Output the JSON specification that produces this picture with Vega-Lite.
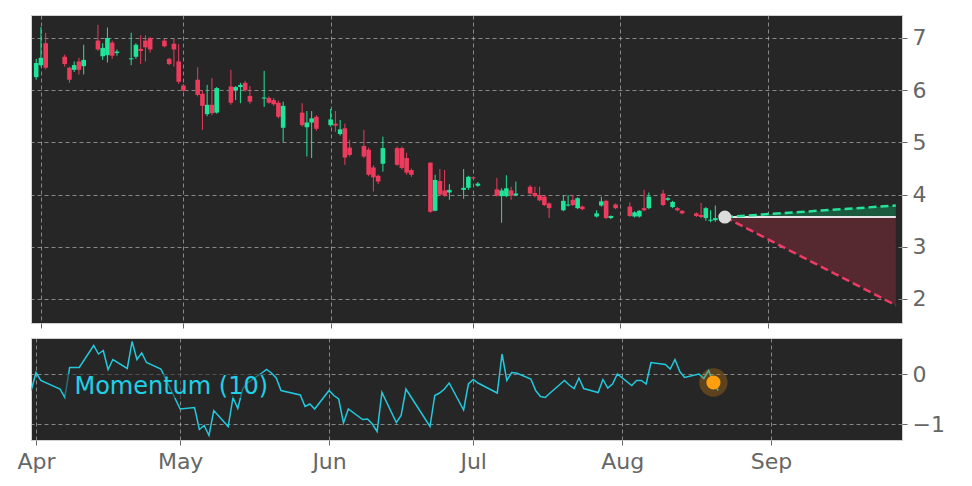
{
  "$schema": "https://vega.github.io/schema/vega-lite/v6.json",
  "background": "white",
  "padding": {"left": 16, "top": 14, "right": 5, "bottom": 5},
  "spacing": 8,
  "config": {
    "view": {"fill": "#262626", "stroke": "#d0d0d0", "strokeWidth": 1},
    "axis": {
      "gridColor": "#b0b0b0", "gridDash": [4, 3], "gridOpacity": 0.7, "gridWidth": 1,
      "domain": false, "tickColor": "#666666", "tickSize": 5,
      "labelFont": "DejaVu Sans", "labelFontSize": 22, "labelColor": "#666666", "labelPadding": 5
    }
  },
  "datasets": {
    "ohlc": [
      {"date": "2015-03-31", "open": 6.25, "high": 6.6, "low": 6.2, "close": 6.52},
      {"date": "2015-04-01", "open": 6.48, "high": 7.21, "low": 6.45, "close": 6.62},
      {"date": "2015-04-02", "open": 6.9, "high": 7.1, "low": 6.4, "close": 6.43},
      {"date": "2015-04-06", "open": 6.64, "high": 6.68, "low": 6.45, "close": 6.5},
      {"date": "2015-04-07", "open": 6.43, "high": 6.45, "low": 6.14, "close": 6.2},
      {"date": "2015-04-08", "open": 6.39, "high": 6.55, "low": 6.35, "close": 6.48},
      {"date": "2015-04-09", "open": 6.55, "high": 6.62, "low": 6.3, "close": 6.39},
      {"date": "2015-04-10", "open": 6.46, "high": 6.87, "low": 6.3, "close": 6.58},
      {"date": "2015-04-13", "open": 6.95, "high": 7.25, "low": 6.75, "close": 6.78},
      {"date": "2015-04-14", "open": 6.65, "high": 6.9, "low": 6.58, "close": 6.81},
      {"date": "2015-04-15", "open": 6.67, "high": 7.2, "low": 6.53, "close": 7.0},
      {"date": "2015-04-16", "open": 6.91, "high": 6.95, "low": 6.6, "close": 6.66},
      {"date": "2015-04-17", "open": 6.71, "high": 6.78, "low": 6.66, "close": 6.74},
      {"date": "2015-04-20", "open": 6.59, "high": 7.1, "low": 6.48, "close": 6.61},
      {"date": "2015-04-21", "open": 6.64, "high": 6.9, "low": 6.6, "close": 6.87},
      {"date": "2015-04-22", "open": 6.79, "high": 7.05, "low": 6.5, "close": 6.75},
      {"date": "2015-04-23", "open": 6.95, "high": 7.05, "low": 6.55, "close": 6.82},
      {"date": "2015-04-24", "open": 7.0, "high": 7.02, "low": 6.72, "close": 6.78},
      {"date": "2015-04-27", "open": 6.95, "high": 6.98, "low": 6.82, "close": 6.84},
      {"date": "2015-04-28", "open": 6.6, "high": 6.62, "low": 6.48, "close": 6.5},
      {"date": "2015-04-29", "open": 6.89, "high": 6.98, "low": 6.45, "close": 6.78},
      {"date": "2015-04-30", "open": 6.55, "high": 6.88, "low": 6.12, "close": 6.16},
      {"date": "2015-05-01", "open": 6.09, "high": 6.12, "low": 5.97, "close": 5.99},
      {"date": "2015-05-04", "open": 6.2, "high": 6.44, "low": 5.88, "close": 5.91},
      {"date": "2015-05-05", "open": 5.93, "high": 6.0, "low": 5.24, "close": 5.7},
      {"date": "2015-05-06", "open": 5.54, "high": 6.1, "low": 5.5, "close": 5.72},
      {"date": "2015-05-07", "open": 5.72, "high": 6.23, "low": 5.52, "close": 5.56},
      {"date": "2015-05-08", "open": 5.57, "high": 6.06, "low": 5.55, "close": 6.04},
      {"date": "2015-05-11", "open": 6.07, "high": 6.39, "low": 5.72, "close": 5.76},
      {"date": "2015-05-12", "open": 6.0, "high": 6.08, "low": 5.81, "close": 6.06},
      {"date": "2015-05-13", "open": 6.06, "high": 6.14, "low": 5.75, "close": 6.1},
      {"date": "2015-05-14", "open": 6.14, "high": 6.18, "low": 5.97, "close": 6.0},
      {"date": "2015-05-15", "open": 5.89, "high": 6.08, "low": 5.74, "close": 5.78},
      {"date": "2015-05-18", "open": 5.84, "high": 6.37, "low": 5.68, "close": 5.86},
      {"date": "2015-05-19", "open": 5.85, "high": 5.88, "low": 5.74, "close": 5.76},
      {"date": "2015-05-20", "open": 5.81, "high": 5.85, "low": 5.7, "close": 5.73},
      {"date": "2015-05-21", "open": 5.76, "high": 5.8, "low": 5.46, "close": 5.49},
      {"date": "2015-05-22", "open": 5.28, "high": 5.78, "low": 5.01, "close": 5.7},
      {"date": "2015-05-26", "open": 5.57, "high": 5.75, "low": 5.3, "close": 5.33},
      {"date": "2015-05-27", "open": 5.29, "high": 5.6, "low": 4.73, "close": 5.38},
      {"date": "2015-05-28", "open": 5.38, "high": 5.6, "low": 4.7, "close": 5.46},
      {"date": "2015-05-29", "open": 5.49, "high": 5.52, "low": 5.22, "close": 5.26},
      {"date": "2015-06-01", "open": 5.33, "high": 5.64, "low": 5.3, "close": 5.44},
      {"date": "2015-06-02", "open": 5.36, "high": 5.6, "low": 5.2, "close": 5.32},
      {"date": "2015-06-03", "open": 5.16, "high": 5.43, "low": 5.13, "close": 5.25},
      {"date": "2015-06-04", "open": 5.27, "high": 5.36, "low": 4.57, "close": 4.71},
      {"date": "2015-06-05", "open": 4.9, "high": 5.05, "low": 4.73, "close": 4.76},
      {"date": "2015-06-08", "open": 4.93, "high": 5.24, "low": 4.7, "close": 4.73},
      {"date": "2015-06-09", "open": 4.86, "high": 4.9, "low": 4.35, "close": 4.38},
      {"date": "2015-06-10", "open": 4.52, "high": 4.56, "low": 4.06, "close": 4.33},
      {"date": "2015-06-11", "open": 4.36, "high": 4.38, "low": 4.2, "close": 4.25},
      {"date": "2015-06-12", "open": 4.59, "high": 5.11, "low": 4.44, "close": 4.89},
      {"date": "2015-06-15", "open": 4.89, "high": 4.92, "low": 4.55, "close": 4.57},
      {"date": "2015-06-16", "open": 4.89, "high": 4.92, "low": 4.48, "close": 4.51},
      {"date": "2015-06-17", "open": 4.7, "high": 4.8, "low": 4.38, "close": 4.42},
      {"date": "2015-06-18", "open": 4.47, "high": 4.5, "low": 4.34, "close": 4.38},
      {"date": "2015-06-22", "open": 4.61, "high": 4.62, "low": 3.65, "close": 3.67},
      {"date": "2015-06-23", "open": 3.69, "high": 4.38, "low": 3.68, "close": 4.28},
      {"date": "2015-06-24", "open": 4.26, "high": 4.49, "low": 3.97, "close": 4.0},
      {"date": "2015-06-25", "open": 4.08, "high": 4.47, "low": 3.96, "close": 3.98},
      {"date": "2015-06-26", "open": 4.04, "high": 4.2, "low": 3.9, "close": 4.09},
      {"date": "2015-06-29", "open": 4.09, "high": 4.49, "low": 3.92, "close": 4.13},
      {"date": "2015-06-30", "open": 4.13, "high": 4.36, "low": 4.09, "close": 4.34},
      {"date": "2015-07-01", "open": 4.33, "high": 4.34, "low": 4.3, "close": 4.31},
      {"date": "2015-07-02", "open": 4.17, "high": 4.24, "low": 4.15, "close": 4.21},
      {"date": "2015-07-06", "open": 4.1, "high": 4.32, "low": 3.96, "close": 3.98},
      {"date": "2015-07-07", "open": 3.97, "high": 4.12, "low": 3.46, "close": 4.08},
      {"date": "2015-07-08", "open": 3.97, "high": 4.37, "low": 3.95, "close": 4.12},
      {"date": "2015-07-09", "open": 4.08, "high": 4.15, "low": 3.9, "close": 3.98},
      {"date": "2015-07-10", "open": 3.99, "high": 4.25, "low": 3.97, "close": 4.02},
      {"date": "2015-07-13", "open": 4.15, "high": 4.18, "low": 4.0, "close": 4.02},
      {"date": "2015-07-14", "open": 4.03, "high": 4.15, "low": 3.95, "close": 3.97},
      {"date": "2015-07-15", "open": 3.99, "high": 4.15, "low": 3.87, "close": 3.89},
      {"date": "2015-07-16", "open": 3.96, "high": 3.98, "low": 3.78, "close": 3.8},
      {"date": "2015-07-17", "open": 3.83, "high": 3.85, "low": 3.55, "close": 3.74},
      {"date": "2015-07-20", "open": 3.7, "high": 3.99, "low": 3.68, "close": 3.88},
      {"date": "2015-07-21", "open": 3.79, "high": 3.99, "low": 3.77, "close": 3.81},
      {"date": "2015-07-22", "open": 3.9, "high": 3.99, "low": 3.78, "close": 3.8},
      {"date": "2015-07-23", "open": 3.74, "high": 3.95, "low": 3.72, "close": 3.93},
      {"date": "2015-07-24", "open": 3.77, "high": 3.79, "low": 3.7, "close": 3.72},
      {"date": "2015-07-27", "open": 3.58, "high": 3.7, "low": 3.56, "close": 3.64},
      {"date": "2015-07-28", "open": 3.79, "high": 3.96, "low": 3.77, "close": 3.87},
      {"date": "2015-07-29", "open": 3.88, "high": 3.9, "low": 3.53, "close": 3.55},
      {"date": "2015-07-30", "open": 3.55, "high": 3.6, "low": 3.53, "close": 3.59},
      {"date": "2015-07-31", "open": 3.81, "high": 3.83, "low": 3.72, "close": 3.74},
      {"date": "2015-08-03", "open": 3.77, "high": 3.85, "low": 3.57, "close": 3.59},
      {"date": "2015-08-04", "open": 3.58, "high": 3.68, "low": 3.56, "close": 3.66},
      {"date": "2015-08-05", "open": 3.58, "high": 3.7, "low": 3.56, "close": 3.69},
      {"date": "2015-08-06", "open": 3.74, "high": 4.09, "low": 3.68, "close": 3.7},
      {"date": "2015-08-07", "open": 3.74, "high": 4.04, "low": 3.72, "close": 3.96},
      {"date": "2015-08-10", "open": 4.02, "high": 4.09, "low": 3.78, "close": 3.8},
      {"date": "2015-08-11", "open": 3.9, "high": 3.95, "low": 3.88, "close": 3.93},
      {"date": "2015-08-12", "open": 3.76, "high": 3.88, "low": 3.74, "close": 3.86},
      {"date": "2015-08-13", "open": 3.74, "high": 3.76, "low": 3.68, "close": 3.7},
      {"date": "2015-08-14", "open": 3.69, "high": 3.7, "low": 3.62, "close": 3.64},
      {"date": "2015-08-17", "open": 3.64, "high": 3.66, "low": 3.57, "close": 3.59},
      {"date": "2015-08-18", "open": 3.61, "high": 3.84, "low": 3.55, "close": 3.57},
      {"date": "2015-08-19", "open": 3.55, "high": 3.76, "low": 3.5, "close": 3.74},
      {"date": "2015-08-20", "open": 3.5, "high": 3.7, "low": 3.47, "close": 3.52},
      {"date": "2015-08-21", "open": 3.51, "high": 3.79, "low": 3.48, "close": 3.55}
    ],
    "mom": [
      {"date": "2015-03-31", "mom": -0.33}, {"date": "2015-04-01", "mom": 0.03},
      {"date": "2015-04-02", "mom": -0.13}, {"date": "2015-04-06", "mom": -0.3},
      {"date": "2015-04-07", "mom": -0.47}, {"date": "2015-04-08", "mom": 0.13},
      {"date": "2015-04-09", "mom": 0.13}, {"date": "2015-04-10", "mom": 0.13},
      {"date": "2015-04-13", "mom": 0.57}, {"date": "2015-04-14", "mom": 0.4},
      {"date": "2015-04-15", "mom": 0.47}, {"date": "2015-04-16", "mom": 0.09},
      {"date": "2015-04-17", "mom": 0.29}, {"date": "2015-04-20", "mom": 0.11},
      {"date": "2015-04-21", "mom": 0.65}, {"date": "2015-04-22", "mom": 0.29},
      {"date": "2015-04-23", "mom": 0.42}, {"date": "2015-04-24", "mom": 0.23},
      {"date": "2015-04-27", "mom": 0.1}, {"date": "2015-04-28", "mom": -0.1},
      {"date": "2015-04-29", "mom": -0.3}, {"date": "2015-04-30", "mom": -0.5},
      {"date": "2015-05-01", "mom": -0.7}, {"date": "2015-05-04", "mom": -0.67},
      {"date": "2015-05-05", "mom": -1.11}, {"date": "2015-05-06", "mom": -1.03},
      {"date": "2015-05-07", "mom": -1.23}, {"date": "2015-05-08", "mom": -0.73},
      {"date": "2015-05-11", "mom": -1.05}, {"date": "2015-05-12", "mom": -0.47},
      {"date": "2015-05-13", "mom": -0.69}, {"date": "2015-05-14", "mom": -0.3},
      {"date": "2015-05-15", "mom": -0.18}, {"date": "2015-05-18", "mom": 0.02},
      {"date": "2015-05-19", "mom": 0.09}, {"date": "2015-05-20", "mom": 0.02},
      {"date": "2015-05-21", "mom": -0.08}, {"date": "2015-05-22", "mom": -0.33},
      {"date": "2015-05-26", "mom": -0.42}, {"date": "2015-05-27", "mom": -0.65},
      {"date": "2015-05-28", "mom": -0.6}, {"date": "2015-05-29", "mom": -0.7},
      {"date": "2015-06-01", "mom": -0.33}, {"date": "2015-06-02", "mom": -0.43},
      {"date": "2015-06-03", "mom": -0.5}, {"date": "2015-06-04", "mom": -0.98},
      {"date": "2015-06-05", "mom": -0.7}, {"date": "2015-06-08", "mom": -0.91},
      {"date": "2015-06-09", "mom": -0.9}, {"date": "2015-06-10", "mom": -1.0},
      {"date": "2015-06-11", "mom": -1.15}, {"date": "2015-06-12", "mom": -0.37},
      {"date": "2015-06-15", "mom": -0.97}, {"date": "2015-06-16", "mom": -0.83},
      {"date": "2015-06-17", "mom": -0.3}, {"date": "2015-06-18", "mom": -0.45},
      {"date": "2015-06-22", "mom": -1.05}, {"date": "2015-06-23", "mom": -0.43},
      {"date": "2015-06-24", "mom": -0.38}, {"date": "2015-06-25", "mom": -0.3},
      {"date": "2015-06-26", "mom": -0.18}, {"date": "2015-06-29", "mom": -0.72},
      {"date": "2015-06-30", "mom": -0.2}, {"date": "2015-07-01", "mom": -0.11},
      {"date": "2015-07-02", "mom": -0.18}, {"date": "2015-07-06", "mom": -0.38},
      {"date": "2015-07-07", "mom": 0.4}, {"date": "2015-07-08", "mom": -0.13},
      {"date": "2015-07-09", "mom": 0.03}, {"date": "2015-07-10", "mom": 0.02},
      {"date": "2015-07-13", "mom": -0.1}, {"date": "2015-07-14", "mom": -0.33},
      {"date": "2015-07-15", "mom": -0.45}, {"date": "2015-07-16", "mom": -0.47},
      {"date": "2015-07-17", "mom": -0.38}, {"date": "2015-07-20", "mom": -0.13},
      {"date": "2015-07-21", "mom": -0.22}, {"date": "2015-07-22", "mom": -0.29},
      {"date": "2015-07-23", "mom": -0.08}, {"date": "2015-07-24", "mom": -0.29},
      {"date": "2015-07-27", "mom": -0.37}, {"date": "2015-07-28", "mom": -0.11},
      {"date": "2015-07-29", "mom": -0.28}, {"date": "2015-07-30", "mom": -0.2},
      {"date": "2015-07-31", "mom": 0.0}, {"date": "2015-08-03", "mom": -0.23},
      {"date": "2015-08-04", "mom": -0.13}, {"date": "2015-08-05", "mom": -0.13},
      {"date": "2015-08-06", "mom": -0.2}, {"date": "2015-08-07", "mom": 0.23},
      {"date": "2015-08-10", "mom": 0.19}, {"date": "2015-08-11", "mom": 0.1},
      {"date": "2015-08-12", "mom": 0.29}, {"date": "2015-08-13", "mom": 0.05},
      {"date": "2015-08-14", "mom": -0.07}, {"date": "2015-08-17", "mom": 0.0},
      {"date": "2015-08-18", "mom": -0.09}, {"date": "2015-08-19", "mom": 0.07},
      {"date": "2015-08-20", "mom": -0.18}, {"date": "2015-08-21", "mom": -0.33}
    ],
    "proj": [
      {"date": "2015-08-23", "base": 3.57, "upper": 3.57, "lower": 3.57},
      {"date": "2015-09-28", "base": 3.57, "upper": 3.79, "lower": 1.88}
    ],
    "last": [{"date": "2015-08-23", "price": 3.57}],
    "momlast": [{"date": "2015-08-20", "mom": -0.17}],
    "label": [{"date": "2015-04-09", "start": "2015-04-07", "end": "2015-05-19", "mom": -0.4, "top": 0.0, "bottom": -0.48, "text": "Momentum (10)"}]
  },
  "vconcat": [
    {
      "width": 871,
      "height": 308,
      "encoding": {
        "x": {
          "field": "date", "type": "temporal", "title": null,
          "scale": {"type": "utc", "domain": [{"year": 2015, "month": 3, "date": 30, "hours": 23, "utc": true}, {"year": 2015, "month": 9, "date": 28, "hours": 6, "utc": true}]},
          "axis": {"labels": false, "grid": true, "values": [{"year": 2015, "month": 4, "date": 1, "utc": true}, {"year": 2015, "month": 5, "date": 1, "utc": true}, {"year": 2015, "month": 6, "date": 1, "utc": true}, {"year": 2015, "month": 7, "date": 1, "utc": true}, {"year": 2015, "month": 8, "date": 1, "utc": true}, {"year": 2015, "month": 9, "date": 1, "utc": true}]}
        }
      },
      "layer": [
        {
          "data": {"name": "proj"},
          "mark": {"type": "area", "color": "#1c5a40", "clip": true},
          "encoding": {
            "y": {"field": "base", "type": "quantitative", "title": null, "scale": {"domain": [1.54, 7.44], "nice": false, "zero": false}, "axis": {"orient": "right", "values": [2, 3, 4, 5, 6, 7], "format": "d", "grid": true}},
            "y2": {"field": "upper"}
          }
        },
        {
          "data": {"name": "proj"},
          "mark": {"type": "area", "color": "#55292f", "clip": true},
          "encoding": {
            "y": {"field": "base", "type": "quantitative", "title": null, "scale": {"domain": [1.54, 7.44], "nice": false, "zero": false}},
            "y2": {"field": "lower"}
          }
        },
        {
          "data": {"name": "ohlc"},
          "mark": {"type": "rule", "strokeWidth": 1, "clip": true},
          "encoding": {
            "y": {"field": "low", "type": "quantitative", "title": null, "scale": {"domain": [1.54, 7.44], "nice": false, "zero": false}},
            "y2": {"field": "high"},
            "color": {"condition": {"test": "datum.close >= datum.open", "value": "#1fe59a"}, "value": "#ec3b5c"}
          }
        },
        {
          "data": {"name": "ohlc"},
          "mark": {"type": "bar", "width": 4.6, "clip": true},
          "encoding": {
            "y": {"field": "open", "type": "quantitative", "title": null, "scale": {"domain": [1.54, 7.44], "nice": false, "zero": false}},
            "y2": {"field": "close"},
            "color": {"condition": {"test": "datum.close >= datum.open", "value": "#1fe59a"}, "value": "#ec3b5c"}
          }
        },
        {
          "data": {"name": "proj"},
          "mark": {"type": "line", "color": "#e6e6e6", "strokeWidth": 2, "clip": true},
          "encoding": {"y": {"field": "base", "type": "quantitative", "title": null, "scale": {"domain": [1.54, 7.44], "nice": false, "zero": false}}}
        },
        {
          "data": {"name": "proj"},
          "mark": {"type": "line", "color": "#25e39a", "strokeWidth": 2.5, "strokeDash": [8, 4], "clip": true},
          "encoding": {"y": {"field": "upper", "type": "quantitative", "title": null, "scale": {"domain": [1.54, 7.44], "nice": false, "zero": false}}}
        },
        {
          "data": {"name": "proj"},
          "mark": {"type": "line", "color": "#ec3b66", "strokeWidth": 2.5, "strokeDash": [8, 4], "clip": true},
          "encoding": {"y": {"field": "lower", "type": "quantitative", "title": null, "scale": {"domain": [1.54, 7.44], "nice": false, "zero": false}}}
        },
        {
          "data": {"name": "last"},
          "mark": {"type": "point", "filled": true, "color": "#dcdcdc", "size": 170, "opacity": 1},
          "encoding": {"y": {"field": "price", "type": "quantitative", "title": null, "scale": {"domain": [1.54, 7.44], "nice": false, "zero": false}}}
        }
      ]
    },
    {
      "width": 871,
      "height": 102,
      "encoding": {
        "x": {
          "field": "date", "type": "temporal", "title": null,
          "scale": {"type": "utc", "domain": [{"year": 2015, "month": 3, "date": 30, "hours": 23, "utc": true}, {"year": 2015, "month": 9, "date": 28, "hours": 6, "utc": true}]},
          "axis": {"labelExpr": "utcFormat(datum.value, '%b')", "grid": true, "labelPadding": 6, "values": [{"year": 2015, "month": 4, "date": 1, "utc": true}, {"year": 2015, "month": 5, "date": 1, "utc": true}, {"year": 2015, "month": 6, "date": 1, "utc": true}, {"year": 2015, "month": 7, "date": 1, "utc": true}, {"year": 2015, "month": 8, "date": 1, "utc": true}, {"year": 2015, "month": 9, "date": 1, "utc": true}]}
        }
      },
      "layer": [
        {
          "data": {"name": "mom"},
          "mark": {"type": "line", "color": "#22c8dc", "strokeWidth": 1.5, "clip": true},
          "encoding": {
            "y": {"field": "mom", "type": "quantitative", "title": null, "scale": {"domain": [-1.32, 0.72], "nice": false, "zero": false}, "axis": {"orient": "right", "values": [-1, 0], "format": "d", "grid": true}}
          }
        },
        {
          "data": {"name": "label"},
          "mark": {"type": "rect", "color": "#262626", "opacity": 0.55},
          "encoding": {
            "x": {"field": "start", "type": "temporal"},
            "x2": {"field": "end"},
            "y": {"field": "top", "type": "quantitative", "title": null, "scale": {"domain": [-1.32, 0.72], "nice": false, "zero": false}},
            "y2": {"field": "bottom"}
          }
        },
        {
          "data": {"name": "label"},
          "mark": {"type": "text", "align": "left", "baseline": "alphabetic", "font": "DejaVu Sans", "fontSize": 24, "color": "#1fd0e6"},
          "encoding": {
            "y": {"field": "mom", "type": "quantitative", "title": null, "scale": {"domain": [-1.32, 0.72], "nice": false, "zero": false}},
            "text": {"field": "text"}
          }
        },
        {
          "data": {"name": "momlast"},
          "mark": {"type": "point", "filled": true, "color": "#c47a12", "size": 800, "opacity": 0.35},
          "encoding": {"y": {"field": "mom", "type": "quantitative", "title": null, "scale": {"domain": [-1.32, 0.72], "nice": false, "zero": false}}}
        },
        {
          "data": {"name": "momlast"},
          "mark": {"type": "point", "filled": true, "color": "#ff9f10", "size": 200, "opacity": 1},
          "encoding": {"y": {"field": "mom", "type": "quantitative", "title": null, "scale": {"domain": [-1.32, 0.72], "nice": false, "zero": false}}}
        }
      ]
    }
  ]
}
